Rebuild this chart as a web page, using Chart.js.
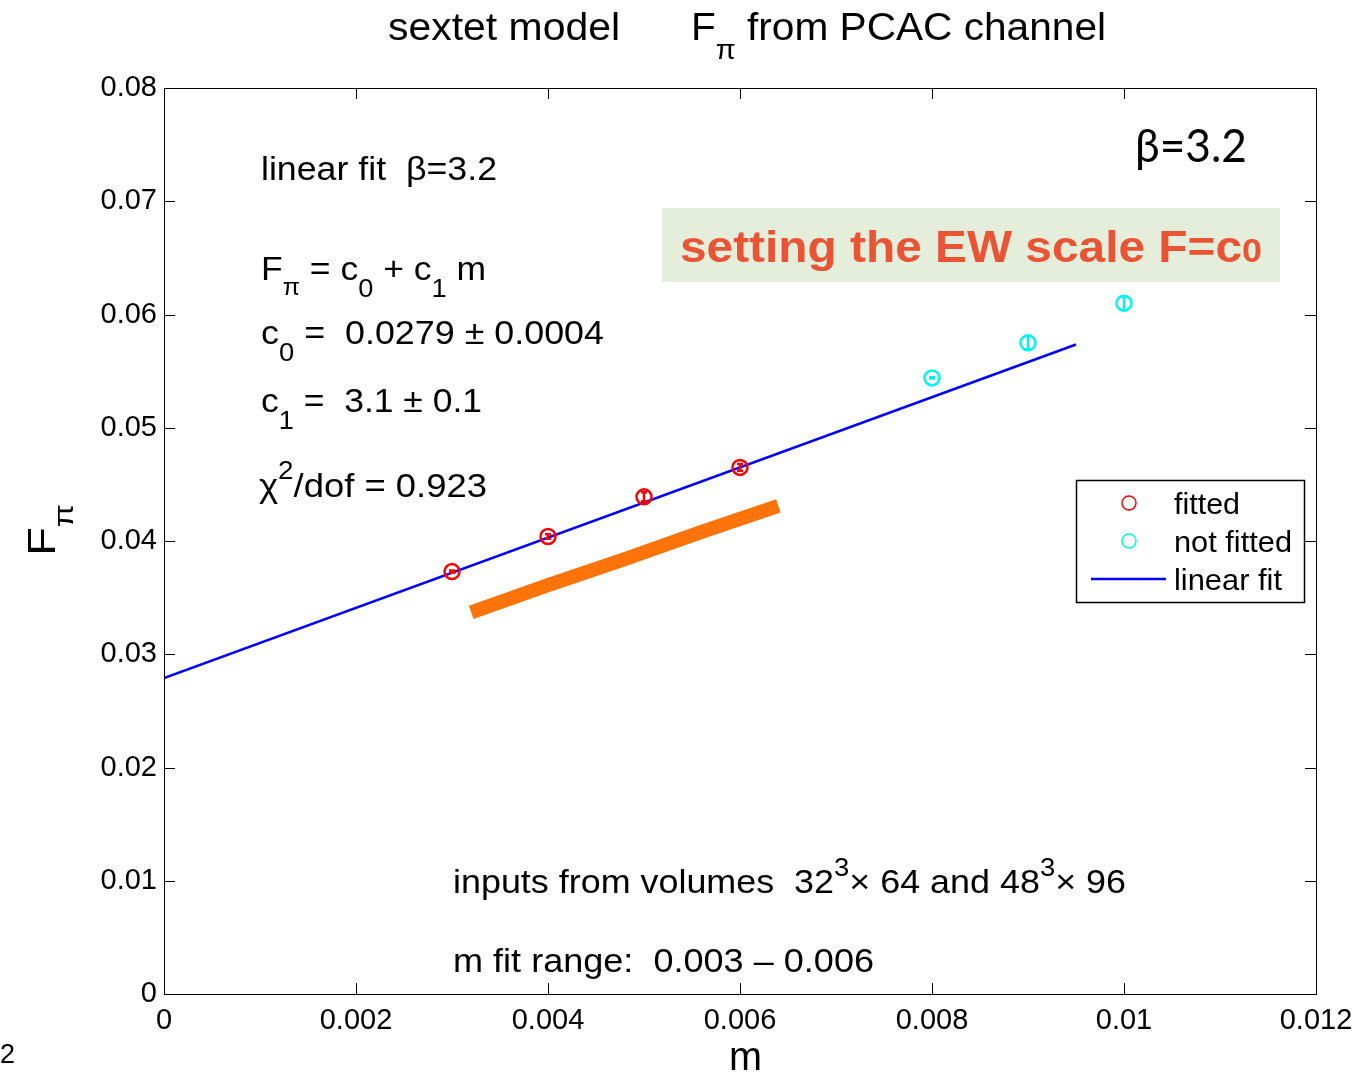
<!DOCTYPE html>
<html>
<head>
<meta charset="utf-8">
<script src="https://cdn.jsdelivr.net/npm/chart.js@4.4.1/dist/chart.umd.min.js"></script>
<style>
  html, body { margin: 0; padding: 0; background: #fff; }
  #wrap { width: 1357px; height: 1074px; }
</style>
</head>
<body>
<div id="wrap"><canvas id="c" width="1357" height="1074"></canvas></div>
<script>
// data
const mFitted = [0.003, 0.004, 0.005, 0.006];
const fFitted = [0.0373, 0.0404, 0.0439, 0.0465];
const errFitted = [0.0001, 0.0002, 0.0004, 0.0003];

const mOther = [0.008, 0.009, 0.010];
const fOther = [0.0544, 0.0575, 0.0610];
const errOther = [0.00005, 0.0006, 0.0006];

// linear fit F = c0 + c1 m
const mFit = [0, 0.0095];
const fFit = [0.0279, 0.05735];

// orange band (dense cloud of samples)
const mBand = [0.0032, 0.0040, 0.0048, 0.0056, 0.0064];
const fBand = [0.0337, 0.0361, 0.0384, 0.0408, 0.0431];

const xTicks = [0, 0.002, 0.004, 0.006, 0.008, 0.010, 0.012];
const yTicks = [0, 0.01, 0.02, 0.03, 0.04, 0.05, 0.06, 0.07, 0.08];

const FONT = '"Liberation Sans", Arial, Helvetica, sans-serif';
const pts = (xs, ys) => xs.map((x, i) => ({ x, y: ys[i] }));

// draws a run of text pieces; each piece: [text, dy, scale]
function rich(ctx, x, y, parts, size, width, opt = {}) {
  ctx.save();
  const weight = opt.bold ? 'bold ' : '';
  let total = 0;
  parts.forEach(p => {
    ctx.font = weight + Math.round(size * (p[2] || 1)) + 'px ' + (opt.family || FONT);
    total += ctx.measureText(p[0]).width;
  });
  const sx = width ? width / total : 1;
  ctx.translate(x, y);
  if (opt.rotate) ctx.rotate(opt.rotate);
  ctx.scale(sx, 1);
  ctx.fillStyle = opt.color || '#000';
  ctx.textBaseline = 'alphabetic';
  ctx.textAlign = 'left';
  let cx = 0;
  parts.forEach(p => {
    ctx.font = weight + Math.round(size * (p[2] || 1)) + 'px ' + (opt.family || FONT);
    ctx.fillText(p[0], cx, p[1] || 0);
    cx += ctx.measureText(p[0]).width;
  });
  ctx.restore();
}

const decor = {
  id: 'decor',
  afterDatasetsDraw(chart) {
    const { ctx, scales: { x, y } } = chart;
    // error bars
    [[0, errFitted], [1, errOther]].forEach(([di, errs]) => {
      const ds = chart.data.datasets[di];
      ctx.save();
      ctx.strokeStyle = ds.borderColor;
      ctx.lineWidth = 2.5;
      ds.data.forEach((p, i) => {
        const px = x.getPixelForValue(p.x);
        const y1 = y.getPixelForValue(p.y - errs[i]);
        const y2 = y.getPixelForValue(p.y + errs[i]);
        ctx.beginPath();
        ctx.moveTo(px, y1); ctx.lineTo(px, y2);
        ctx.moveTo(px - 3, y1); ctx.lineTo(px + 3, y1);
        ctx.moveTo(px - 3, y2); ctx.lineTo(px + 3, y2);
        ctx.stroke();
      });
      ctx.restore();
    });
  },
  afterDraw(chart) {
    const { ctx, chartArea: a, scales: { x, y } } = chart;
    ctx.save();
    // box + inward ticks
    ctx.strokeStyle = '#000';
    ctx.lineWidth = 1;
    ctx.strokeRect(a.left + 0.5, a.top + 0.5, a.right - a.left, a.bottom - a.top);
    ctx.beginPath();
    xTicks.forEach(v => {
      const px = Math.round(x.getPixelForValue(v)) + 0.5;
      ctx.moveTo(px, a.bottom); ctx.lineTo(px, a.bottom - 11);
      ctx.moveTo(px, a.top); ctx.lineTo(px, a.top + 11);
    });
    yTicks.forEach(v => {
      const py = Math.round(y.getPixelForValue(v)) + 0.5;
      ctx.moveTo(a.left, py); ctx.lineTo(a.left + 11, py);
      ctx.moveTo(a.right, py); ctx.lineTo(a.right - 11, py);
    });
    ctx.stroke();

    // green banner
    ctx.fillStyle = '#e4eedb';
    ctx.fillRect(662, 208, 618, 74);
    ctx.restore();
    rich(ctx, 680, 262, [['setting the EW scale F=c'], ['0', 0, 0.75]], 44, 582,
      { bold: true, color: '#ea5435' });

    // titles
    rich(ctx, 388, 40, [['sextet model']], 38, 232);
    rich(ctx, 691, 40, [['F'], ['π', 19, 0.7], [' from PCAC channel']], 38, 415);
    rich(ctx, 729, 1070, [['m']], 40, 33);
    rich(ctx, 55, 556, [['F'], ['π', 18, 0.7]], 38, 52, { rotate: -Math.PI / 2 });
    rich(ctx, 0, 1063, [['2']], 28, 15);
    rich(ctx, 1135, 162, [['β=3.2']], 46, 112, { family: 'Lato, "Open Sans", sans-serif' });

    // fit annotations
    rich(ctx, 261, 180, [['linear fit  β=3.2']], 34, 236);
    rich(ctx, 261, 280, [['F'], ['π', 15, 0.7], [' = c'], ['0', 17, 0.75], [' + c'], ['1', 17, 0.75], [' m']], 34, 225);
    rich(ctx, 261, 344, [['c'], ['0', 17, 0.75], [' =  0.0279 ± 0.0004']], 34, 343);
    rich(ctx, 261, 412, [['c'], ['1', 17, 0.75], [' =  3.1 ± 0.1']], 34, 221);
    rich(ctx, 259, 497, [['χ'], ['2', -18, 0.75], ['/dof = 0.923']], 34, 228);
    rich(ctx, 453, 893, [['inputs from volumes  32'], ['3', -17, 0.75], ['× 64 and 48'], ['3', -17, 0.75], ['× 96']], 34, 673);
    rich(ctx, 453, 972, [['m fit range:  0.003 – 0.006']], 34, 421);

    // legend
    ctx.save();
    ctx.fillStyle = '#fff';
    ctx.fillRect(1076, 480, 228, 122);
    ctx.strokeStyle = '#000';
    ctx.lineWidth = 1.5;
    ctx.strokeRect(1076.5, 480.5, 228, 122);
    ctx.lineWidth = 1.5;
    ctx.strokeStyle = chart.data.datasets[0].borderColor;
    ctx.beginPath(); ctx.arc(1129, 503, 7, 0, Math.PI * 2); ctx.stroke();
    ctx.strokeStyle = chart.data.datasets[1].borderColor;
    ctx.beginPath(); ctx.arc(1129, 541, 7, 0, Math.PI * 2); ctx.stroke();
    ctx.strokeStyle = chart.data.datasets[2].borderColor;
    ctx.lineWidth = 2.5;
    ctx.beginPath(); ctx.moveTo(1091, 579); ctx.lineTo(1166, 579); ctx.stroke();
    ctx.restore();
    rich(ctx, 1174, 514, [['fitted']], 29, 66);
    rich(ctx, 1174, 552, [['not fitted']], 29, 118);
    rich(ctx, 1174, 590, [['linear fit']], 29, 108);
  }
};

new Chart(document.getElementById('c').getContext('2d'), {
  type: 'scatter',
  data: {
    datasets: [
      {
        label: 'fitted',
        data: pts(mFitted, fFitted),
        borderColor: '#ff0000',
        backgroundColor: 'rgba(0,0,0,0)',
        pointRadius: 7.5,
        pointBorderWidth: 2.5,
        order: 1
      },
      {
        label: 'not fitted',
        data: pts(mOther, fOther),
        borderColor: '#00f4f4',
        backgroundColor: 'rgba(0,0,0,0)',
        pointRadius: 7.5,
        pointBorderWidth: 2.5,
        order: 1
      },
      {
        label: 'linear fit',
        type: 'line',
        data: pts(mFit, fFit),
        borderColor: '#0000ff',
        borderWidth: 2.5,
        pointRadius: 0,
        fill: false,
        order: 2
      },
      {
        label: 'band',
        type: 'line',
        data: pts(mBand, fBand),
        borderColor: '#ff7308',
        borderWidth: 14,
        borderCapStyle: 'butt',
        pointRadius: 0,
        fill: false,
        order: 3
      }
    ]
  },
  options: {
    responsive: false,
    animation: false,
    layout: { padding: { left: 0, top: 88, right: 41, bottom: 0 } },
    plugins: { legend: { display: false }, tooltip: { enabled: false } },
    scales: {
      x: {
        type: 'linear',
        min: 0, max: 0.012,
        afterFit: s => { s.height = 80; s.paddingLeft = 0; s.paddingRight = 0; },
        afterBuildTicks: s => { s.ticks = xTicks.map(v => ({ value: v })); },
        grid: { display: false, drawTicks: false },
        border: { display: false },
        ticks: {
          padding: 10,
          color: '#000',
          font: { family: FONT, size: 29 },
          maxRotation: 0,
          autoSkip: false,
          callback: v => v === 0 ? '0' : String(+v.toFixed(3))
        }
      },
      y: {
        type: 'linear',
        min: 0, max: 0.08,
        afterFit: s => { s.width = 164; s.paddingTop = 0; s.paddingBottom = 0; },
        afterBuildTicks: s => { s.ticks = yTicks.map(v => ({ value: v })); },
        grid: { display: false, drawTicks: false },
        border: { display: false },
        ticks: {
          padding: 7,
          color: '#000',
          font: { family: FONT, size: 29 },
          autoSkip: false,
          callback: v => v === 0 ? '0' : v.toFixed(2)
        }
      }
    }
  },
  plugins: [decor]
});
</script>
</body>
</html>
